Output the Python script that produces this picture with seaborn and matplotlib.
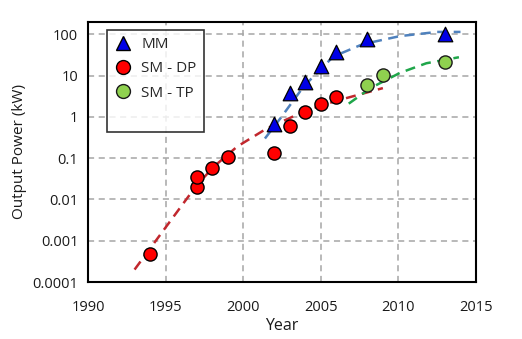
import matplotlib
matplotlib.use("Agg")
import matplotlib.pyplot as plt
import matplotlib.ticker as mticker
import seaborn as sns
from matplotlib.lines import Line2D

# ---- data ----
mm_years = [2002, 2003, 2004, 2005, 2006, 2008, 2013]
mm_power = [0.68, 3.9, 6.9, 17, 37, 79, 100]

dp_years = [1994, 1997, 1997, 1998, 1999, 2002, 2003, 2004, 2005, 2006]
dp_power = [0.00048, 0.02, 0.035, 0.057, 0.11, 0.135, 0.6, 1.35, 2.1, 3.0]

tp_years = [2008, 2009, 2013]
tp_power = [6.0, 10.4, 21]

# dashed trend curves
red_trend_years = [1993.0, 1995.0, 1997.0, 1998.1, 1999.6, 2001.5, 2003.2, 2005.0, 2006.7, 2009.0]
red_trend_power = [0.0002, 0.0021, 0.022, 0.062, 0.19, 0.52, 1.02, 1.9, 2.9, 5.0]

blue_trend_years = [2001.4, 2002.4, 2003.9, 2005.8, 2007.7, 2010.1, 2012.5, 2014.0]
blue_trend_power = [0.30, 0.93, 5.5, 29, 58, 91, 115, 115]

green_trend_years = [2006.8, 2008.2, 2010.1, 2011.8, 2013.9]
green_trend_power = [2.1, 5.0, 11.7, 20, 28]

x_ticks = [1990, 1995, 2000, 2005, 2010, 2015]
y_ticks = [0.0001, 0.001, 0.01, 0.1, 1, 10, 100]
y_tick_labels = ["0.0001", "0.001", "0.01", "0.1", "1", "10", "100"]

sns.set_style("white")
plt.rcParams['font.family'] = ['Open Sans', 'DejaVu Sans']

fig = plt.figure(figsize=(5.22, 3.39), dpi=100)
ax = fig.add_axes([88/522, 1-282/339, (476-88)/522, (282-22)/339])

dash = (4, 2.6)
sns.lineplot(x=red_trend_years, y=red_trend_power, ax=ax, color="#c1272d", lw=1.8,
             linestyle=(0, dash), zorder=2)
sns.lineplot(x=blue_trend_years, y=blue_trend_power, ax=ax, color="#4f81bd", lw=1.8,
             linestyle=(0, dash), zorder=2)
sns.lineplot(x=green_trend_years, y=green_trend_power, ax=ax, color="#1fa64a", lw=1.8,
             linestyle=(0, dash), zorder=2)

sns.scatterplot(x=dp_years, y=dp_power, ax=ax, marker="o", s=90, color="#ff0000",
                edgecolor="#000000", linewidth=1.0, zorder=3)
sns.scatterplot(x=tp_years, y=tp_power, ax=ax, marker="o", s=90, color="#8fd14f",
                edgecolor="#1a1a1a", linewidth=1.0, zorder=3)
sns.scatterplot(x=mm_years, y=mm_power, ax=ax, marker="^", s=110, color="#0000e6",
                edgecolor="#000000", linewidth=0.9, zorder=4)

ax.set_yscale("log")
ax.set_xlim(1990, 2015)
ax.set_ylim(0.0001, 200)
ax.set_xticks(x_ticks)
ax.set_xticklabels([str(v) for v in x_ticks])
ax.xaxis.set_minor_locator(mticker.MultipleLocator(1))
ax.set_yticks(y_ticks)
ax.set_yticklabels(y_tick_labels)
ax.yaxis.set_minor_locator(mticker.LogLocator(base=10, subs=range(2, 10), numticks=20))
ax.yaxis.set_minor_formatter(mticker.NullFormatter())

ax.tick_params(axis="both", which="both", direction="in", length=6, width=1.2,
               color="black", top=False, right=False, labelsize=10.5, labelcolor="#1a1a1a")
ax.tick_params(axis="y", which="minor", length=5, width=0.8)
ax.tick_params(axis="x", pad=13)
ax.tick_params(axis="y", pad=7)

ax.grid(True, which="major", color="#a6a6a6", linestyle=(0, (4, 3)), linewidth=1.1)
ax.set_axisbelow(True)
for sp in ax.spines.values():
    sp.set_color("black")
    sp.set_linewidth(1.5)
    sp.set_visible(True)

ax.set_xlabel("Year", fontsize=11.5, color="#1a1a1a", labelpad=2)
ax.set_ylabel("Output Power (kW)", fontsize=11, color="#1a1a1a", labelpad=4)

handles = [
    Line2D([], [], marker="^", color="none", markerfacecolor="#0000e6", markeredgecolor="black", markersize=10),
    Line2D([], [], marker="o", color="none", markerfacecolor="#ff0000", markeredgecolor="black", markersize=10),
    Line2D([], [], marker="o", color="none", markerfacecolor="#8fd14f", markeredgecolor="#1a1a1a", markersize=10),
    Line2D([], [], color="none"),
]
leg = ax.legend(handles, ["MM", "SM - DP", "SM - TP", ""], loc="upper left",
                bbox_to_anchor=((107-88)/388, 1-(30-22)/260), frameon=True, fancybox=False,
                edgecolor="black", fontsize=11, handletextpad=0.6, labelspacing=0.62,
                borderpad=0.45, handlelength=1.2, borderaxespad=0)
leg.get_frame().set_linewidth(1.2)
leg.set_zorder(5)

fig.savefig("out.png", dpi=100)
